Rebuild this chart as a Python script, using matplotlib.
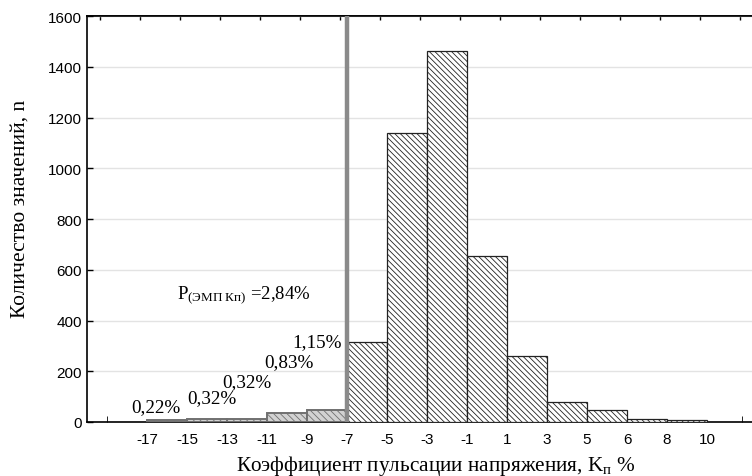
import matplotlib
matplotlib.use("Agg")
import matplotlib.pyplot as plt
import numpy as np

# Bin edge labels (categorical x axis) and counts per bin
edge_labels = ["-17", "-15", "-13", "-11", "-9", "-7", "-5", "-3", "-1",
               "1", "3", "5", "6", "8", "10"]
counts = [9, 13, 13, 34, 47, 315, 1139, 1463, 655, 260, 79, 47, 11, 8]
# Share of values below the -7 % threshold
tail_labels = ["0,22%", "0,32%", "0,32%", "0,83%", "1,15%"]
tail_text_pos = [(0.23, 59), (1.63, 95), (2.5, 158), (3.54, 237), (4.25, 315)]
total_label = r"$\mathrm{P}_{\mathrm{(ЭМП\ Кп)}}$ =2,84%"
y_ticks = [0, 200, 400, 600, 800, 1000, 1200, 1400, 1600]

plt.rcParams["mathtext.fontset"] = "custom"
plt.rcParams["mathtext.rm"] = "Liberation Serif"
plt.rcParams["mathtext.it"] = "Liberation Serif:italic"
plt.rcParams["hatch.linewidth"] = 0.6

serif = "Liberation Serif"
sans = "Liberation Sans"

W, H = 752, 477
fig = plt.figure(figsize=(W / 100, H / 100), dpi=100)
ax = fig.add_axes([87 / W, (H - 423) / H, (W - 87) / W, (423 - 17) / H])

ax.set_xlim(-1.5, 15.125)
ax.set_ylim(0, 1600)

n_tail = len(tail_labels)
for i, c in enumerate(counts):
    if i < n_tail:
        plt.rcParams["hatch.color"] = "#555555"
        ax.bar(i, c, width=1, align="edge", facecolor="#d2d2d2",
               edgecolor="#707070", hatch="\\\\\\\\\\", linewidth=1.4, zorder=3)
    else:
        plt.rcParams["hatch.color"] = "#333333"
        ax.bar(i, c, width=1, align="edge", facecolor="white",
               edgecolor="#222222", hatch="\\\\\\\\\\\\", linewidth=0.9, zorder=3)

# Threshold line at -7 %
ax.axvline(n_tail, color="#8a8a8a", linewidth=3.2, zorder=4)

ax.set_yticks(y_ticks)
ax.set_yticklabels([str(v) for v in y_ticks], fontfamily=sans, fontsize=11)
ax.yaxis.grid(True, color="#e3e3e3", linewidth=1.0, zorder=0)
ax.set_axisbelow(True)

ax.set_xticks(range(len(edge_labels)))
ax.set_xticklabels(edge_labels, fontfamily=sans, fontsize=11)
ax.tick_params(axis="x", length=0, pad=7)
ax.set_xticks([-1, 14.875], minor=True)
ax.tick_params(axis="x", which="minor", direction="in", length=4, bottom=True, top=False)
ax.tick_params(axis="y", direction="in", length=4, width=1)

# Tick marks along the top edge
top = ax.secondary_xaxis("top")
top.set_xticks(np.arange(-1, 16) - 0.17)
top.set_xticklabels([])
top.tick_params(direction="in", length=3, width=1)
top.spines["top"].set_linewidth(1.2)

for sp in ["left", "bottom", "top"]:
    ax.spines[sp].set_linewidth(1.2)
ax.spines["right"].set_visible(False)

for txt, (x, y) in zip(tail_labels, tail_text_pos):
    ax.text(x, y, txt, ha="center", va="center", fontfamily=serif, fontsize=13.8, zorder=5)
ax.text(0.75, 504, total_label, ha="left", va="center", fontfamily=serif, fontsize=13.5, zorder=5)

# Axis titles
fig.text(436 / W, 1 - 466 / H,
         "Коэффициент пульсации напряжения, $\\mathrm{K}_{\\mathrm{п}}$ %",
         ha="center", va="center", fontfamily=serif, fontsize=15.3)
fig.text(20 / W, 1 - 209 / H, "Количество значений, n", rotation=90,
         ha="center", va="center", fontfamily=serif, fontsize=15.5)

fig.savefig("out.png", dpi=100)
